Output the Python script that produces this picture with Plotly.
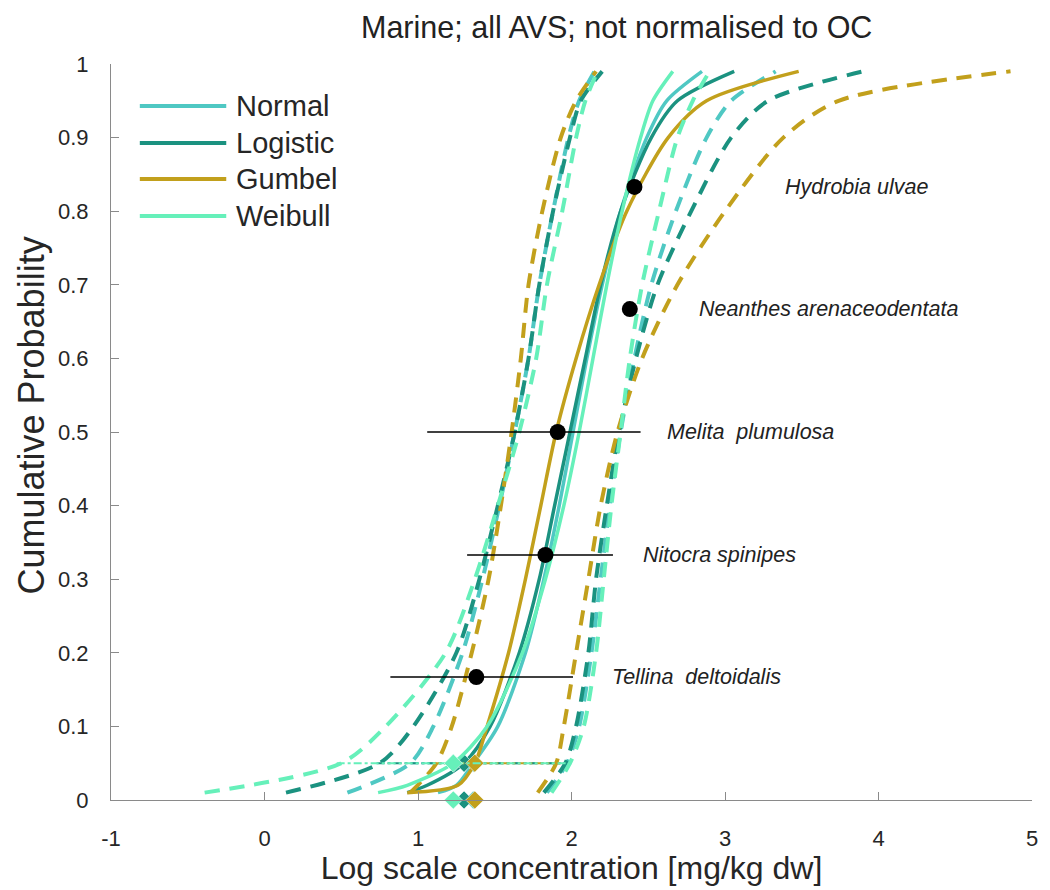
import plotly.graph_objects as go

# ---------------- data ----------------
dist_names = ["Normal", "Logistic", "Gumbel", "Weibull"]
dist_colors = ["#4FC8C3", "#1B9280", "#C2A01C", "#66F0BA"]

# probability levels at which the fitted curves were read
P_FIT = [0.01, 0.02, 0.05, 0.1, 0.2, 0.3, 0.4, 0.5, 0.6, 0.7, 0.8, 0.9, 0.95, 0.99]
normal_fit = [1.13, 1.25, 1.36, 1.52, 1.70, 1.82, 1.92, 2.01, 2.10, 2.20, 2.32, 2.49, 2.62, 2.85]
logistic_fit = [0.93, 1.06, 1.30, 1.47, 1.66, 1.79, 1.89, 1.99, 2.09, 2.19, 2.32, 2.52, 2.69, 3.06]
gumbel_fit = [0.93, 1.26, 1.37, 1.45, 1.59, 1.70, 1.80, 1.90, 2.03, 2.18, 2.36, 2.63, 2.88, 3.48]
weibull_fit = [0.74, 0.93, 1.23, 1.45, 1.68, 1.83, 1.95, 2.05, 2.14, 2.23, 2.33, 2.45, 2.53, 2.66]

# probability levels at which the confidence bounds were read
P_CI = [0.01, 0.05, 0.1, 0.2, 0.3, 0.4, 0.5, 0.6, 0.7, 0.8, 0.9, 0.95, 0.99]
normal_lo = [0.54, 0.95, 1.10, 1.29, 1.42, 1.53, 1.63, 1.72, 1.79, 1.88, 1.98, 2.05, 2.15]
logistic_lo = [0.14, 0.75, 0.97, 1.25, 1.40, 1.52, 1.63, 1.72, 1.79, 1.88, 1.99, 2.06, 2.20]
gumbel_lo = [0.95, 1.12, 1.22, 1.35, 1.46, 1.54, 1.61, 1.67, 1.72, 1.81, 1.93, 2.03, 2.16]
weibull_lo = [-0.39, 0.50, 0.79, 1.18, 1.37, 1.52, 1.66, 1.77, 1.84, 1.94, 2.03, 2.09, 2.17]

normal_hi = [1.84, 1.97, 2.05, 2.13, 2.19, 2.25, 2.32, 2.41, 2.52, 2.68, 2.88, 3.04, 3.33]
logistic_hi = [1.82, 1.96, 2.03, 2.11, 2.16, 2.23, 2.31, 2.42, 2.56, 2.78, 3.04, 3.28, 3.90]
gumbel_hi = [1.78, 1.90, 1.95, 2.03, 2.11, 2.19, 2.30, 2.46, 2.69, 3.00, 3.38, 3.74, 4.86]
weibull_hi = [1.87, 1.99, 2.08, 2.16, 2.21, 2.26, 2.32, 2.38, 2.46, 2.57, 2.69, 2.79, 2.90]

# HC5 (5 % hazard concentration) with its confidence interval
HC5_P = 0.05
hc5_value = [1.36, 1.30, 1.37, 1.23]
hc5_lo = [0.95, 0.73, 1.10, 0.47]
hc5_hi = [1.99, 1.97, 1.94, 2.01]

# species toxicity data
species = ["Tellina  deltoidalis", "Nitocra spinipes", "Melita  plumulosa",
           "Neanthes arenaceodentata", "Hydrobia ulvae"]
species_conc = [1.38, 1.83, 1.91, 2.38, 2.41]
species_p = [0.167, 0.333, 0.5, 0.667, 0.833]
species_lo = [0.82, 1.32, 1.06, 2.38, 2.41]
species_hi = [2.01, 2.27, 2.45, 2.38, 2.41]
label_x = [2.25, 2.45, 2.61, 2.82, 3.38]

x_ticks = [-1, 0, 1, 2, 3, 4, 5]
x_ticktext = ["-1", "0", "1", "2", "3", "4", "5"]
y_ticks = [0, 0.1, 0.2, 0.3, 0.4, 0.5, 0.6, 0.7, 0.8, 0.9, 1]
y_ticktext = ["0", "0.1", "0.2", "0.3", "0.4", "0.5", "0.6", "0.7", "0.8", "0.9", "1"]

fits = [normal_fit, logistic_fit, gumbel_fit, weibull_fit]
lows = [normal_lo, logistic_lo, gumbel_lo, weibull_lo]
highs = [normal_hi, logistic_hi, gumbel_hi, weibull_hi]

FONT = "Liberation Sans, Arial, sans-serif"
AXIS_GREY = "#8A8A8A"
TEXT = "#262626"

fig = go.Figure()

for i, name in enumerate(dist_names):
    c = dist_colors[i]
    for bound in (lows[i], highs[i]):
        fig.add_trace(go.Scatter(
            x=bound, y=P_CI, mode="lines", showlegend=False, hoverinfo="skip",
            line=dict(color=c, width=4, dash="15px,10px", shape="spline", smoothing=0.8)))
    fig.add_trace(go.Scatter(
        x=fits[i], y=P_FIT, mode="lines", name=name, showlegend=False,
        line=dict(color=c, width=3.5, shape="spline", smoothing=0.8)))
    fig.add_trace(go.Scatter(
        x=[hc5_lo[i], hc5_hi[i]], y=[HC5_P, HC5_P], mode="lines", showlegend=False,
        hoverinfo="skip", line=dict(color=c, width=2, dash="8px,3px,3px,3px")))
    fig.add_trace(go.Scatter(
        x=[hc5_value[i], hc5_value[i]], y=[HC5_P, 0], mode="markers", showlegend=False,
        cliponaxis=False,
        marker=dict(symbol="diamond", size=14, color=c, line=dict(color="white", width=0.6))))

# species points with horizontal error bars
fig.add_trace(go.Scatter(
    x=species_conc, y=species_p, mode="markers", showlegend=False, text=species,
    marker=dict(color="black", size=16),
    error_x=dict(type="data", symmetric=False,
                 array=[h - x for h, x in zip(species_hi, species_conc)],
                 arrayminus=[x - l for x, l in zip(species_conc, species_lo)],
                 color="black", thickness=1.5, width=0)))

annotations = []
for s, lx, py in zip(species, label_x, species_p):
    annotations.append(dict(x=lx, y=py, xref="x", yref="y",
                            text="<i>" + s.replace("  ", "\u00a0 ") + "</i>",
                            showarrow=False, xanchor="left", yanchor="middle",
                            font=dict(family=FONT, size=21.5, color="#222222")))

# legend drawn as long line samples + text, like the original
PLOT_L, PLOT_R, PLOT_T, PLOT_B = 111, 1038, 64, 800
def px_x(px):
    return (px - PLOT_L) / (PLOT_R - PLOT_L)
def px_y(py):
    return (PLOT_B - py) / (PLOT_B - PLOT_T)

shapes = []
legend_rows = [106, 143, 179, 216]
for i, name in enumerate(dist_names):
    yy = px_y(legend_rows[i])
    shapes.append(dict(type="line", xref="paper", yref="paper", x0=px_x(140), x1=px_x(227),
                       y0=yy, y1=yy, line=dict(color=dist_colors[i], width=4)))
    annotations.append(dict(x=px_x(235), y=yy, xref="paper", yref="paper", text=name,
                            showarrow=False, xanchor="left", yanchor="middle",
                            font=dict(family=FONT, size=29, color=TEXT)))

# y-axis title (placed like the original, slightly above the axis centre)
annotations.append(dict(x=px_x(30), y=px_y(416), xref="paper", yref="paper",
                        text="Cumulative Probability", textangle=-90, showarrow=False,
                        xanchor="center", yanchor="middle",
                        font=dict(family=FONT, size=36, color=TEXT)))

fig.update_layout(
    width=1050, height=890,
    margin=dict(l=PLOT_L, r=1050 - PLOT_R, t=PLOT_T, b=890 - PLOT_B),
    paper_bgcolor="white", plot_bgcolor="white",
    font=dict(family=FONT, color=TEXT),
    title=dict(text="Marine; all AVS; not normalised to OC", x=px_x(620), xref="paper",
               xanchor="center", y=1 - 27 / 890, yref="container", yanchor="middle",
               font=dict(family=FONT, size=30.5, color="#222222")),
    xaxis=dict(range=[-1, 5], tickvals=x_ticks, ticktext=x_ticktext, ticks="inside", ticklen=8,
               tickcolor=AXIS_GREY, showline=True, linecolor=AXIS_GREY, linewidth=1.2,
               showgrid=False, zeroline=False,
               tickfont=dict(size=22, color=TEXT), ticklabelstandoff=18,
               title=dict(text="Log scale concentration [mg/kg dw]", font=dict(size=32, color=TEXT),
                          standoff=4)),
    yaxis=dict(range=[0, 1], tickvals=y_ticks, ticktext=y_ticktext, ticks="inside", ticklen=8,
               tickcolor=AXIS_GREY, showline=True, linecolor=AXIS_GREY, linewidth=1.2,
               showgrid=False, zeroline=False, tickfont=dict(size=22, color=TEXT),
               ticklabelstandoff=17),
    shapes=shapes, annotations=annotations,
)

fig.write_html("out.html", config={"displayModeBar": False},
               post_script="document.body.style.margin='0';")
